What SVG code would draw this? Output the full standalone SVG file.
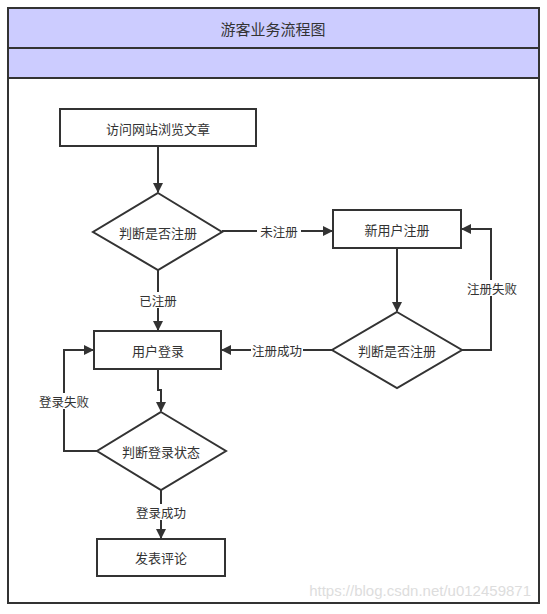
<svg xmlns="http://www.w3.org/2000/svg" width="547" height="614" viewBox="0 0 547 614">
<style>
.node{fill:#fff;stroke:#333;stroke-width:2}
.t{font-family:"Noto Sans CJK SC","Liberation Sans",sans-serif;font-size:13px;fill:#333;text-anchor:middle;dominant-baseline:central}
.lbl{font-family:"Noto Sans CJK SC","Liberation Sans",sans-serif;font-size:12.5px;fill:#333;text-anchor:middle;dominant-baseline:central}
.c{fill:none;stroke:#333;stroke-width:2}
.bg{fill:#fff}
</style>
<defs>
<marker id="ah" markerWidth="10" markerHeight="10" viewBox="0 0 10 10" refX="9" refY="5" orient="auto" markerUnits="userSpaceOnUse">
<path d="M0,0 L10,5 L0,10 Z" fill="#333"/>
</marker>
</defs>
<rect x="0" y="0" width="547" height="614" fill="#fff"/>
<g id="frame">
<rect x="8" y="8" width="531" height="595" fill="#fff" stroke="#333" stroke-width="2"/>
<rect x="8" y="8" width="531" height="40" fill="#ccccff" stroke="#333" stroke-width="2"/>
<rect x="8" y="48" width="531" height="30" fill="#ccccff" stroke="#333" stroke-width="2"/>
<text x="273" y="28" class="t" style="font-size:15px">游客业务流程图</text>
</g>
<g id="connectors">
<path class="c" d="M158,146 V192" marker-end="url(#ah)"/>
<path class="c" d="M222,231 H332" marker-end="url(#ah)"/>
<path class="c" d="M158,270 V330" marker-end="url(#ah)"/>
<path class="c" d="M397,248 V311" marker-end="url(#ah)"/>
<path class="c" d="M332,350 H222" marker-end="url(#ah)"/>
<path class="c" d="M462,350 H491 V229 H462" marker-end="url(#ah)"/>
<path class="c" d="M158,369 V390 H161 V411" marker-end="url(#ah)"/>
<path class="c" d="M97,451 H64 V350 H93" marker-end="url(#ah)"/>
<path class="c" d="M161,490 V538" marker-end="url(#ah)"/>
<rect class="bg" x="257" y="223" width="44" height="16"/>
<text x="279" y="231" class="lbl">未注册</text>
<rect class="bg" x="136" y="292" width="44" height="16"/>
<text x="158" y="300" class="lbl">已注册</text>
<rect class="bg" x="251" y="342" width="52" height="16"/>
<text x="277" y="350" class="lbl">注册成功</text>
<rect class="bg" x="466" y="280" width="52" height="16"/>
<text x="492" y="288" class="lbl">注册失败</text>
<rect class="bg" x="38" y="393" width="52" height="16"/>
<text x="64" y="401" class="lbl">登录失败</text>
<rect class="bg" x="135" y="504" width="52" height="16"/>
<text x="161" y="512" class="lbl">登录成功</text>
</g>
<g id="n1"><rect class="node" x="60" y="109" width="196" height="37"/><text x="158" y="128" class="t">访问网站浏览文章</text></g>
<g id="d1"><polygon class="node" points="158,193 222,232 158,270 93,232"/><text x="158" y="232" class="t">判断是否注册</text></g>
<g id="n2"><rect class="node" x="333" y="210" width="128" height="38"/><text x="397" y="229" class="t">新用户注册</text></g>
<g id="d2"><polygon class="node" points="397,312 462,350 397,388 332,350"/><text x="397" y="350" class="t">判断是否注册</text></g>
<g id="n3"><rect class="node" x="94" y="331" width="127" height="38"/><text x="158" y="350" class="t">用户登录</text></g>
<g id="d3"><polygon class="node" points="161,412 226,451 161,490 97,451"/><text x="161" y="451" class="t">判断登录状态</text></g>
<g id="n4"><rect class="node" x="97" y="539" width="128" height="37"/><text x="161" y="557" class="t">发表评论</text></g>
<text x="531" y="596" style="font-family:'Liberation Sans',sans-serif;font-size:15px;fill:#ddd;text-anchor:end">https://blog.csdn.net/u012459871</text>
</svg>
